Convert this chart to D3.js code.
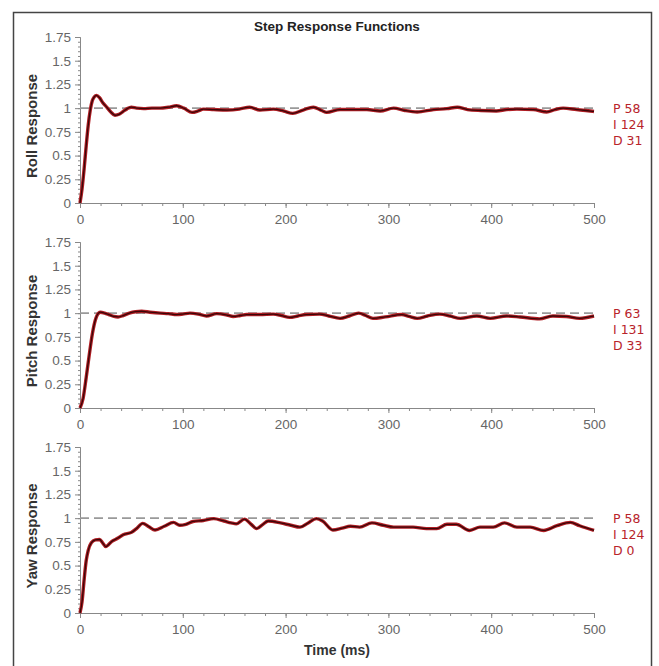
<!DOCTYPE html>
<html>
<head>
<meta charset="utf-8">
<script src="https://cdn.jsdelivr.net/npm/d3@7"></script>
<style>
  body { margin: 0; background: #fff; }
  svg { display: block; }
</style>
</head>
<body>
<svg id="chart" width="659" height="666"></svg>
<script>
// values, [time ms, response]
var rollResponse = [[0,0],[2,0.15],[4,0.36],[6,0.6],[8,0.82],[10,0.98],[12,1.08],[14,1.12],[16,1.135],[19,1.11],[22,1.06],[26,1.01],[30,0.96],[34,0.925],[38,0.935],[42,0.965],[46,0.995],[50,1.01],[55,1.0],[62,0.995],[70,1.0],[78,1.0],[86,1.01],[94,1.025],[101,1.0],[109,0.955],[115,0.97],[120,0.99],[130,0.985],[143,0.98],[155,0.99],[165,1.01],[175,0.98],[188,0.99],[198,0.97],[207,0.945],[217,0.98],[227,1.01],[235,0.975],[240,0.955],[253,0.985],[269,0.985],[279,0.985],[292,0.97],[305,1.0],[316,0.975],[328,0.96],[344,0.985],[357,0.995],[367,1.01],[377,0.985],[390,0.975],[405,0.97],[415,0.985],[425,0.99],[441,0.985],[454,0.96],[462,0.985],[470,1.0],[483,0.985],[492,0.975],[500,0.965]];

var pitchResponse = [[0,0],[3,0.1],[6,0.32],[9,0.56],[12,0.78],[15,0.93],[18,1.0],[20,1.01],[24,1.0],[28,0.985],[33,0.965],[37,0.96],[42,0.975],[48,1.0],[54,1.015],[60,1.02],[68,1.01],[78,1.0],[86,0.995],[94,0.985],[100,0.99],[107,1.0],[115,0.99],[123,0.97],[133,0.995],[143,0.98],[149,0.965],[156,0.975],[162,0.985],[175,0.985],[188,0.99],[196,0.975],[204,0.955],[212,0.97],[220,0.985],[233,0.99],[242,0.97],[253,0.945],[262,0.97],[271,1.0],[278,0.975],[285,0.945],[297,0.96],[313,0.985],[320,0.965],[328,0.945],[338,0.97],[350,0.99],[360,0.97],[370,0.945],[386,0.97],[399,0.945],[415,0.97],[428,0.96],[447,0.94],[460,0.97],[473,0.965],[486,0.945],[500,0.97]];

var yawResponse = [[0,0],[2,0.12],[4,0.35],[6,0.55],[8,0.66],[11,0.74],[15,0.77],[19,0.775],[22,0.74],[25,0.7],[31,0.755],[37,0.79],[42,0.825],[50,0.85],[55,0.89],[61,0.945],[67,0.91],[73,0.875],[82,0.915],[91,0.955],[97,0.925],[103,0.935],[110,0.965],[120,0.975],[130,0.995],[140,0.97],[147,0.95],[152,0.94],[160,0.99],[166,0.94],[172,0.89],[178,0.935],[183,0.97],[195,0.95],[205,0.925],[214,0.905],[222,0.95],[230,0.995],[236,0.97],[246,0.875],[255,0.895],[263,0.915],[272,0.905],[284,0.95],[295,0.925],[305,0.905],[324,0.905],[337,0.89],[347,0.89],[357,0.935],[366,0.935],[379,0.87],[389,0.905],[402,0.905],[413,0.95],[425,0.905],[438,0.905],[451,0.87],[464,0.92],[477,0.955],[486,0.92],[500,0.87]];

var panelTitles = ["Roll Response", "Pitch Response", "Yaw Response"];
var pidLabels = [["P 58", "I 124", "D 31"], ["P 63", "I 131", "D 33"], ["P 58", "I 124", "D 0"]];
var yTicks = [0, 0.25, 0.5, 0.75, 1, 1.25, 1.5, 1.75];
var xTicks = [0, 100, 200, 300, 400, 500];
var setpoint = 1;

var series = [rollResponse, pitchResponse, yawResponse];

var svg = d3.select("#chart");
var font = "'Liberation Sans', Arial, sans-serif";

// outer frame
svg.append("rect")
    .attr("x", 13.5).attr("y", 12.5)
    .attr("width", 638).attr("height", 700)
    .attr("fill", "none")
    .attr("stroke", "#444")
    .attr("stroke-width", 1.5);

svg.append("text")
    .attr("x", 337).attr("y", 31)
    .attr("text-anchor", "middle")
    .attr("font-family", font)
    .attr("font-weight", "bold")
    .attr("font-size", 13.5)
    .attr("fill", "#222")
    .text("Step Response Functions");

var x = d3.scaleLinear().domain([0, 500]).range([80, 594]);
var panelBottoms = [203, 408, 613];
var panelHeight = 166;

var line = d3.line().curve(d3.curveMonotoneX);

function drawPanel(i){
    var bottom = panelBottoms[i];
    var y = d3.scaleLinear().domain([0, 1.75]).range([bottom, bottom - panelHeight]);
    var g = svg.append("g");

    // minor ticks first, majors on top
    g.append("g")
        .attr("transform", "translate(80,0)")
        .call(d3.axisLeft(y).tickValues(d3.range(0, 1.751, 0.05)).tickSize(2).tickFormat(""))
        .call(styleAxis);
    g.append("g")
        .attr("transform", "translate(0," + bottom + ")")
        .call(d3.axisBottom(x).tickValues(d3.range(0, 501, 20)).tickSize(3).tickFormat(""))
        .call(styleAxis);

    g.append("g")
        .attr("transform", "translate(80,0)")
        .call(d3.axisLeft(y).tickValues(yTicks).tickSize(5).tickSizeOuter(0).tickPadding(4).tickFormat(function(d){ return String(d); }))
        .call(styleAxis);
    g.append("g")
        .attr("transform", "translate(0," + bottom + ")")
        .call(d3.axisBottom(x).tickValues(xTicks).tickSize(5).tickSizeOuter(0).tickPadding(6))
        .call(styleAxis);

    // setpoint
    g.append("line")
        .attr("x1", x(0)).attr("x2", x(500))
        .attr("y1", y(setpoint)).attr("y2", y(setpoint))
        .attr("stroke", "#999")
        .attr("stroke-width", 1.6)
        .attr("stroke-dasharray", "9,5");

    var pts = series[i].map(function(d){ return [x(d[0]), y(d[1])]; });
    g.append("path")
        .attr("d", line(pts))
        .attr("fill", "none")
        .attr("stroke", "#b01e24")
        .attr("stroke-width", 3.4)
        .attr("stroke-linejoin", "round");
    g.append("path")
        .attr("d", line(pts))
        .attr("fill", "none")
        .attr("stroke", "#3a0608")
        .attr("stroke-width", 1.3)
        .attr("stroke-linejoin", "round");

    var yc = (bottom + bottom - panelHeight) / 2 + 6;
    g.append("text")
        .attr("transform", "translate(37," + yc + ") rotate(-90)")
        .attr("text-anchor", "middle")
        .attr("font-family", font)
        .attr("font-weight", "bold")
        .attr("font-size", 15)
        .attr("fill", "#333")
        .text(panelTitles[i]);

    // PID gains, one per line
    g.selectAll(".pid")
        .data(pidLabels[i])
        .enter().append("text")
        .attr("x", 613)
        .attr("y", function(d, k){ return y(setpoint) + 5 + k * 16; })
        .attr("font-family", "'DejaVu Sans', sans-serif")
        .attr("font-size", 12.5)
        .attr("fill", "#b8232a")
        .text(function(d){ return d; });
}

function styleAxis(sel){
    sel.select(".domain").attr("stroke", "#888");
    sel.selectAll(".tick line").attr("stroke", "#888");
    sel.selectAll(".tick text")
        .attr("fill", "#666")
        .attr("font-family", font)
        .attr("font-size", 13.5);
}

for(var i = 0; i < 3; i++){
    drawPanel(i);
}

svg.append("text")
    .attr("x", 337).attr("y", 655)
    .attr("text-anchor", "middle")
    .attr("font-family", font)
    .attr("font-weight", "bold")
    .attr("font-size", 14)
    .attr("fill", "#333")
    .text("Time (ms)");
</script>
</body>
</html>
